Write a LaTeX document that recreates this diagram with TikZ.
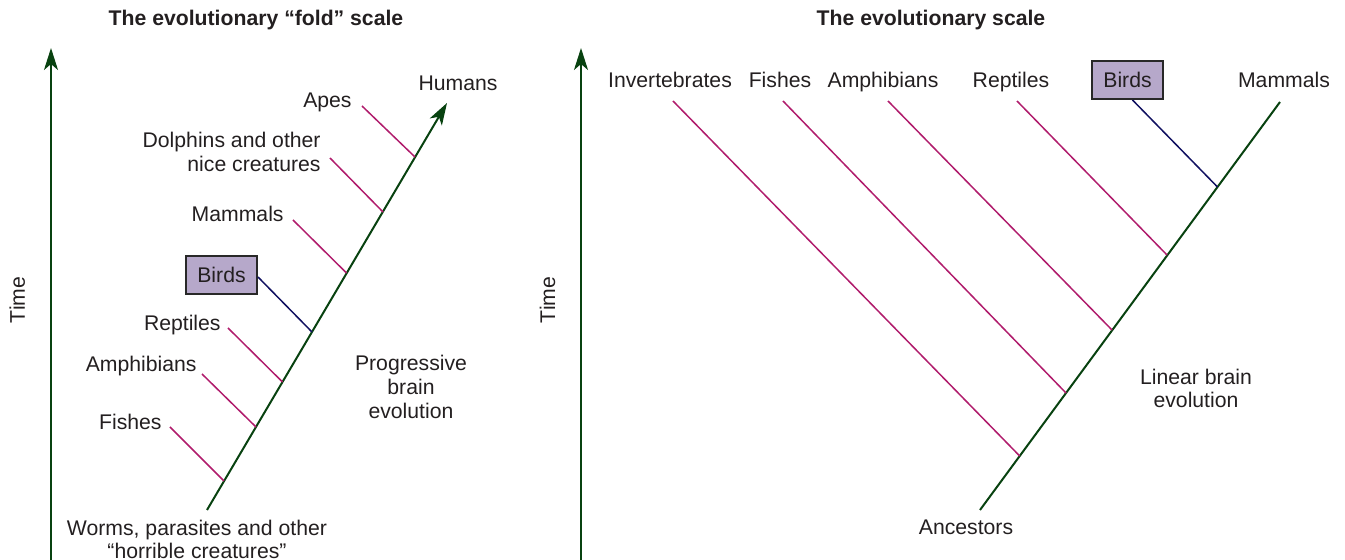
\documentclass[tikz,border=0pt]{standalone}
\usepackage{fontspec}
\setmainfont{Liberation Sans}
\usetikzlibrary{arrows.meta,calc}
\definecolor{evgreen}{RGB}{8,66,16}
\definecolor{evmag}{RGB}{176,28,108}
\definecolor{evnavy}{RGB}{16,16,96}
\definecolor{birdfill}{RGB}{182,168,202}
\definecolor{boxline}{RGB}{40,40,40}
\definecolor{txtgray}{RGB}{35,31,32}
\newcommand{\lblfont}{\fontsize{10.6}{12}\selectfont}
\newcommand{\lblfonttight}{\fontsize{10.6}{11.5}\selectfont}
\tikzset{
  txt/.style={font=\lblfont, text=txtgray, inner sep=0pt},
  ttl/.style={font=\lblfont\bfseries, text=txtgray, inner sep=0pt, anchor=base},
  axisline/.style={draw=evgreen, line width=1pt, -{Stealth[length=11pt,width=7pt,inset=3pt]}},
  trunk/.style={draw=evgreen, line width=1pt},
  branch/.style={draw=evmag, line width=0.75pt},
  birdline/.style={draw=evnavy, line width=0.75pt},
  birdbox/.style={draw=boxline, fill=birdfill, line width=1pt, minimum width=35.5pt, minimum height=19pt, inner sep=0pt, font=\lblfont, text=txtgray}
}
\begin{document}
\begin{tikzpicture}[x=0.5pt,y=-0.5pt]
\useasboundingbox (0,0) rectangle (1345,560);

% ---------------- Left panel ----------------
\node[ttl] (tL) at (256,26) {The evolutionary “fold” scale};
\coordinate (aL0) at (51,560);
\coordinate (aL1) at (51,48);
\draw[axisline] (aL0) -- (aL1);
\node[txt, rotate=90, anchor=base] (timeL) at (25,300) {Time};

\coordinate (L0) at (207,510);
\coordinate (Lt) at (447,103);
\draw[axisline] (L0) -- (Lt);

\node[txt, anchor=base] (humans) at (458,91) {Humans};
\node[txt, anchor=base east] (apes) at (352,108) {Apes};
\node[txt, anchor=north east, align=right] (dolph) at (321,131.5) {Dolphins and other\\nice creatures};
\node[txt, anchor=base east] (mammL) at (284,222) {Mammals};
\node[birdbox] (bL) at (221.5,275) {Birds};
\node[txt, anchor=base east] (reptL) at (221,331) {Reptiles};
\node[txt, anchor=base east] (amphL) at (197,372) {Amphibians};
\node[txt, anchor=base east] (fishL) at (162,430) {Fishes};
\node[txt, anchor=north, align=center] (prog) at (411,354.5) {Progressive\\brain\\evolution};
\node[txt, anchor=north, align=center, font=\lblfonttight] (worms) at (197,519.5) {Worms, parasites and other\\“horrible creatures”};

\coordinate (sApes) at (362,106);  \coordinate (jApes) at (415,157);
\coordinate (sDol) at (330,158);   \coordinate (jDol) at (383,212);
\coordinate (sMamL) at (293,220);  \coordinate (jMamL) at (346.5,273);
\coordinate (jBirdL) at (312,332);
\coordinate (sRepL) at (228,328);  \coordinate (jRepL) at (282.5,382);
\coordinate (sAmpL) at (202,374);  \coordinate (jAmpL) at (256,427);
\coordinate (sFisL) at (170,427);  \coordinate (jFisL) at (224,481);

\draw[branch] (sApes) -- (jApes);
\draw[branch] (sDol) -- (jDol);
\draw[branch] (sMamL) -- (jMamL);
\draw[birdline] ([yshift=-1pt]bL.east) -- (jBirdL);
\draw[branch] (sRepL) -- (jRepL);
\draw[branch] (sAmpL) -- (jAmpL);
\draw[branch] (sFisL) -- (jFisL);

% ---------------- Right panel ----------------
\node[ttl] (tR) at (931,26) {The evolutionary scale};
\coordinate (aR0) at (581,560);
\coordinate (aR1) at (581,48);
\draw[axisline] (aR0) -- (aR1);
\node[txt, rotate=90, anchor=base] (timeR) at (555,300) {Time};

\coordinate (R0) at (980,510);
\coordinate (Rt) at (1280,102);
\draw[trunk] (R0) -- (Rt);

\node[txt, anchor=base] (inv) at (670,88) {Invertebrates};
\node[txt, anchor=base] (fishR) at (780,88) {Fishes};
\node[txt, anchor=base] (amphR) at (883,88) {Amphibians};
\node[txt, anchor=base] (reptR) at (1011,88) {Reptiles};
\node[birdbox] (bR) at (1127.5,80) {Birds};
\node[txt, anchor=base] (mammR) at (1284,88) {Mammals};
\node[txt, anchor=base] (anc) at (966,535) {Ancestors};
\node[txt, anchor=north, align=center, font=\lblfonttight] (lin) at (1196,368.5) {Linear brain\\evolution};

\coordinate (sInv) at (673,101);   \coordinate (jInv) at (1019.7,456);
\coordinate (sFisR) at (783,101);  \coordinate (jFisR) at (1066,393);
\coordinate (sAmpR) at (888,101);  \coordinate (jAmpR) at (1112,330);
\coordinate (sRepR) at (1017,101); \coordinate (jRepR) at (1167,255);
\coordinate (jBirdR) at (1217.5,187);

\draw[branch] (sInv) -- (jInv);
\draw[branch] (sFisR) -- (jFisR);
\draw[branch] (sAmpR) -- (jAmpR);
\draw[branch] (sRepR) -- (jRepR);
\draw[birdline] ([xshift=2.5pt]bR.south) -- (jBirdR);
\end{tikzpicture}
\end{document}
